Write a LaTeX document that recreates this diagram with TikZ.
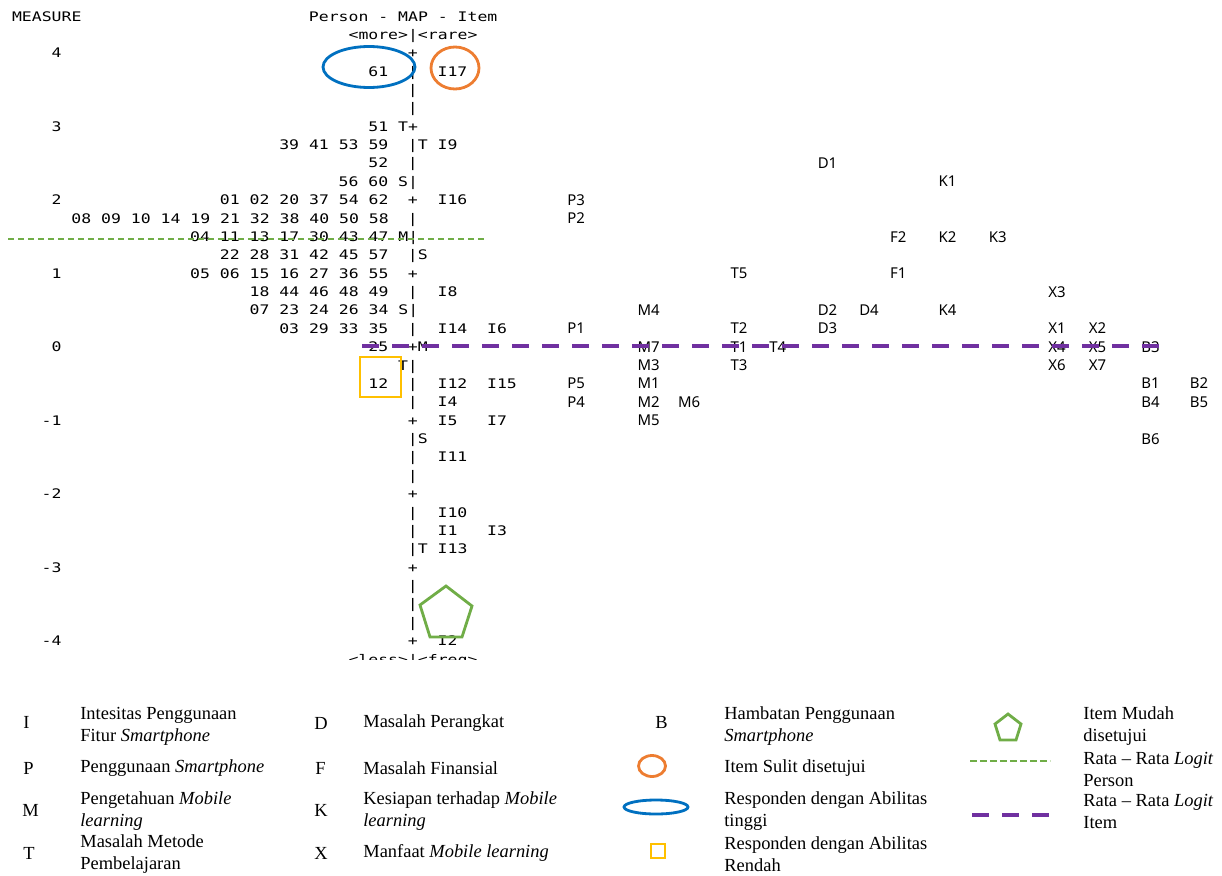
\documentclass[tikz,border=0pt]{standalone}
\usepackage{fontspec}
\setmainfont{Liberation Serif}
\newfontfamily\mapmono[FakeStretch=1.25]{DejaVu Sans Mono}
\newfontfamily\mapsans{Noto Sans}
\usetikzlibrary{calc}

\definecolor{abilblue}{HTML}{0070C0}
\definecolor{hardorange}{HTML}{ED7D31}
\definecolor{easygreen}{HTML}{70AD47}
\definecolor{lowyellow}{HTML}{FFC000}
\definecolor{meanpurple}{HTML}{7030A0}

\tikzset{
	mapfont/.style={font=\mapmono\fontsize{7.5}{9}\selectfont, anchor=base west, inner sep=0pt},
	itemfont/.style={font=\mapsans\fontsize{8.5}{10}\selectfont, anchor=base west, inner sep=0pt},
	legtext/.style={font=\fontsize{10.5}{12.5}\selectfont, anchor=west, align=left, inner sep=0pt},
	mark shape/.style={line width=1.6pt},
	person mean/.style={easygreen, line width=1.2pt, dash pattern=on 0.13cm off 0.07cm},
	item mean/.style={meanpurple, line width=2.3pt, dash pattern=on 0.34cm off 0.26cm}
}

% text of the map, at column and row
\newcommand{\mapat}[3]{\node[mapfont] (m#2-#1) at (#1,#2+.26) {#3};}
% item codes of the other scales
\newcommand{\itemat}[3]{\node[itemfont] (#3) at (#1,#2+.29) {#3};}

\begin{document}
\begin{tikzpicture}[x=0.02cm, y=-0.02cm]
	\useasboundingbox (0,0) rectangle (1222,875);

	% Wright map
	\begin{scope}
		\clip (0,0) rectangle (1222,659.5);
		\begin{scope}[x=0.198cm, y=-0.3675cm, shift={(0.234cm,-0.325cm)}]
			\mapat{0}{0}{MEASURE}
			\mapat{30}{0}{Person - MAP - Item}
			\mapat{34}{1}{<more>|<rare>}
			\mapat{4}{2}{4} \mapat{40}{2}{+}
			\mapat{36}{3}{61} \mapat{40}{3}{|} \mapat{43}{3}{I17}
			\mapat{4}{6}{3} \mapat{36}{6}{51 T+}
			\mapat{27}{7}{39 41 53 59} \mapat{40}{7}{|T I9}
			\mapat{36}{8}{52} \mapat{40}{8}{|}
			\mapat{33}{9}{56 60 S|}
			\mapat{4}{10}{2} \mapat{21}{10}{01 02 20 37 54 62} \mapat{40}{10}{+} \mapat{43}{10}{I16}
			\mapat{6}{11}{08 09 10 14 19 21 32 38 40 50 58} \mapat{40}{11}{|}
			\mapat{18}{12}{04 11 13 17 30 43 47 M|}
			\mapat{21}{13}{22 28 31 42 45 57} \mapat{40}{13}{|S}
			\mapat{4}{14}{1} \mapat{18}{14}{05 06 15 16 27 36 55} \mapat{40}{14}{+}
			\mapat{24}{15}{18 44 46 48 49} \mapat{40}{15}{|} \mapat{43}{15}{I8}
			\mapat{24}{16}{07 23 24 26 34 S|}
			\mapat{27}{17}{03 29 33 35} \mapat{40}{17}{|} \mapat{43}{17}{I14} \mapat{48}{17}{I6}
			\mapat{4}{18}{0} \mapat{36}{18}{25} \mapat{40}{18}{+M}
			\mapat{39}{19}{T|}
			\mapat{36}{20}{12} \mapat{40}{20}{|} \mapat{43}{20}{I12} \mapat{48}{20}{I15}
			\mapat{40}{21}{|} \mapat{43}{21}{I4}
			\mapat{3}{22}{-1} \mapat{40}{22}{+} \mapat{43}{22}{I5} \mapat{48}{22}{I7}
			\mapat{40}{23}{|S}
			\mapat{40}{24}{|} \mapat{43}{24}{I11}
			\mapat{3}{26}{-2} \mapat{40}{26}{+}
			\mapat{40}{27}{|} \mapat{43}{27}{I10}
			\mapat{40}{28}{|} \mapat{43}{28}{I1} \mapat{48}{28}{I3}
			\mapat{40}{29}{|T I13}
			\mapat{3}{30}{-3} \mapat{40}{30}{+}
			\mapat{3}{34}{-4} \mapat{40}{34}{+} \mapat{43}{34}{I2}
			\mapat{34}{35}{<less>|<freq>}
			\foreach \r in {4,5,25,31,32,33}{
				\mapat{40}{\r}{|}
			}

			% items of the other scales
			\itemat{81.4}{8}{D1}
			\itemat{93.6}{9}{K1}
			\itemat{56.1}{10}{P3}
			\itemat{56.1}{11}{P2}
			\itemat{88.7}{12}{F2} \itemat{93.6}{12}{K2} \itemat{98.7}{12}{K3}
			\itemat{72.6}{14}{T5} \itemat{88.7}{14}{F1}
			\itemat{104.7}{15}{X3}
			\itemat{63.2}{16}{M4} \itemat{81.4}{16}{D2} \itemat{85.6}{16}{D4} \itemat{93.6}{16}{K4}
			\itemat{56.1}{17}{P1} \itemat{72.6}{17}{T2} \itemat{81.4}{17}{D3} \itemat{104.7}{17}{X1} \itemat{108.8}{17}{X2}
			\itemat{63.2}{18}{M7} \itemat{72.6}{18}{T1} \itemat{76.5}{18}{T4} \itemat{104.7}{18}{X4} \itemat{108.8}{18}{X5} \itemat{114.1}{18}{B3}
			\itemat{63.2}{19}{M3} \itemat{72.6}{19}{T3} \itemat{104.7}{19}{X6} \itemat{108.8}{19}{X7}
			\itemat{56.1}{20}{P5} \itemat{63.2}{20}{M1} \itemat{114.1}{20}{B1} \itemat{119}{20}{B2}
			\itemat{56.1}{21}{P4} \itemat{63.2}{21}{M2} \itemat{67.3}{21}{M6} \itemat{114.1}{21}{B4} \itemat{119}{21}{B5}
			\itemat{63.2}{22}{M5}
			\itemat{114.1}{23}{B6}
		\end{scope}

		% marks on the map
		\draw[mark shape, abilblue] (369,67) ellipse (0.92cm and 0.41cm);
		\draw[mark shape, hardorange] (455,68) ellipse (0.48cm and 0.42cm);
		\draw[mark shape, lowyellow] (360,357) rectangle (401,397);
		\draw[mark shape, easygreen] (446,586) -- (472,606) -- (462,637) -- (430,637) -- (420,605) -- cycle;
		\draw[person mean] (8,239) coordinate (pm1) -- (487,239) coordinate (pm2);
		\draw[item mean] (362,346) coordinate (im1) -- (1168,346) coordinate (im2);
	\end{scope}

	% legend
	\node[legtext] (lI) at (23,722) {I};
	\node[legtext] (lP) at (23,768) {P};
	\node[legtext] (lM) at (22,810) {M};
	\node[legtext] (lT) at (23,853) {T};
	\node[legtext] (tI) at (80,726) {Intesitas Penggunaan\\Fitur \textit{Smartphone}};
	\node[legtext] (tP) at (80,768) {Penggunaan \textit{Smartphone}};
	\node[legtext] (tM) at (80,811) {Pengetahuan \textit{Mobile}\\\textit{learning}};
	\node[legtext] (tT) at (80,854) {Masalah Metode\\Pembelajaran};

	\node[legtext] (lD) at (314,723) {D};
	\node[legtext] (lF) at (315,768) {F};
	\node[legtext] (lK) at (314,810) {K};
	\node[legtext] (lX) at (314,853) {X};
	\node[legtext] (tD) at (363,723) {Masalah Perangkat};
	\node[legtext] (tF) at (363,768) {Masalah Finansial};
	\node[legtext] (tK) at (363,811) {Kesiapan terhadap \textit{Mobile}\\\textit{learning}};
	\node[legtext] (tX) at (363,853) {Manfaat \textit{Mobile learning}};

	\node[legtext] (lB) at (655,722) {B};
	\draw[mark shape, hardorange] (652,766) ellipse (0.27cm and 0.21cm);
	\draw[mark shape, abilblue] (656,807) ellipse (0.64cm and 0.14cm);
	\draw[mark shape, lowyellow] (651,844) rectangle (665,858);
	\node[legtext] (tB) at (724,726) {Hambatan Penggunaan\\\textit{Smartphone}};
	\node[legtext] (tO) at (724,768) {Item Sulit disetujui};
	\node[legtext] (tE) at (724,811) {Responden dengan Abilitas\\tinggi};
	\node[legtext] (tS) at (724,854) {Responden dengan Abilitas\\Rendah};

	\draw[mark shape, easygreen] (1008,714) -- (1021,724) -- (1016,740) -- (1000,740) -- (995,724) -- cycle;
	\draw[person mean] (970,761) coordinate (lg1) -- (1050,761) coordinate (lg2);
	\draw[item mean] (972,815) coordinate (lp1) -- (1049,815) coordinate (lp2);
	\node[legtext] (tG) at (1083,726) {Item Mudah\\disetujui};
	\node[legtext] (tR) at (1083,769) {Rata -- Rata \textit{Logit}\\Person};
	\node[legtext] (tL) at (1083,811) {Rata -- Rata \textit{Logit}\\Item};
\end{tikzpicture}
\end{document}
